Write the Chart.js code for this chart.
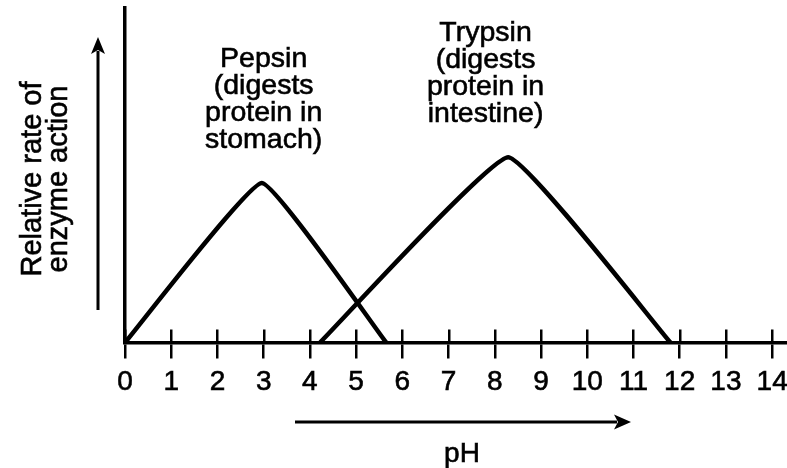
<!DOCTYPE html>
<html>
<head>
<meta charset="utf-8">
<script src="https://cdn.jsdelivr.net/npm/chart.js@4.4.1/dist/chart.umd.min.js"></script>
<style>
  html, body { margin: 0; padding: 0; background: #fff; }
  #wrap { width: 787px; height: 468px; }
</style>
</head>
<body>
<div id="wrap"><canvas id="c" width="787" height="468"></canvas></div>
<script>
// ---- data ----
const phTicks = ['0','1','2','3','4','5','6','7','8','9','10','11','12','13','14'];
const pepsinPH   = [0, 2.96, 5.65];
const pepsinRate = [0, 47.7, 0];
const trypsinPH   = [4.22, 8.29, 11.8];
const trypsinRate = [0, 55.4, 0];
const pepsinLabel  = ['Pepsin', '(digests', 'protein in', 'stomach)'];
const trypsinLabel = ['Trypsin', '(digests', 'protein in', 'intestine)'];
const yTitle = ['Relative rate of', 'enzyme action'];
const xTitle = 'pH';

const FONT = '"Liberation Sans", Arial, Helvetica, sans-serif';

function pts(xs, ys) { return xs.map((x, i) => ({ x: x, y: ys[i] })); }

function arrow(ctx, x1, y1, x2, y2, head, half) {
  const ang = Math.atan2(y2 - y1, x2 - x1);
  const bx = x2 - head * Math.cos(ang), by = y2 - head * Math.sin(ang);
  ctx.beginPath();
  ctx.moveTo(x1, y1);
  ctx.lineTo(bx + 3 * Math.cos(ang), by + 3 * Math.sin(ang));
  ctx.stroke();
  ctx.beginPath();
  ctx.moveTo(x2, y2);
  ctx.lineTo(bx - half * Math.sin(ang), by + half * Math.cos(ang));
  ctx.lineTo(bx + 4 * Math.cos(ang), by + 4 * Math.sin(ang));
  ctx.lineTo(bx + half * Math.sin(ang), by - half * Math.cos(ang));
  ctx.closePath();
  ctx.fill();
}

function boldText(ctx, s, x, y) {
  ctx.fillText(s, x, y);
  ctx.strokeText(s, x, y);
}

const decor = {
  id: 'decor',
  afterDraw(chart) {
    const ctx = chart.ctx;
    const ca = chart.chartArea;
    const xs = chart.scales.x;
    ctx.save();
    ctx.strokeStyle = '#000';
    ctx.fillStyle = '#000';
    // upper half of tick marks (crossing the axis)
    ctx.lineWidth = 2.5;
    xs.ticks.forEach(t => {
      const px = Math.round(xs.getPixelForValue(t.value)) + 0.25;
      ctx.beginPath();
      ctx.moveTo(px, ca.bottom - 13);
      ctx.lineTo(px, ca.bottom);
      ctx.stroke();
    });
    // y direction arrow
    ctx.lineWidth = 3;
    arrow(ctx, ca.left - 27, 310, ca.left - 27, 37, 17, 7);
    // x direction arrow
    arrow(ctx, 295, 422, 631, 422, 17, 7.5);
    // text
    ctx.lineWidth = 0.6;
    ctx.textAlign = 'center';
    ctx.textBaseline = 'alphabetic';
    // x title
    ctx.font = '28px ' + FONT;
    boldText(ctx, xTitle, 462, 462);
    // y title (rotated)
    ctx.font = '29px ' + FONT;
    const cy = 179;
    yTitle.forEach((line, i) => {
      ctx.save();
      ctx.translate(41 + i * 25.5, cy);
      ctx.rotate(-Math.PI / 2);
      boldText(ctx, line, 0, 0);
      ctx.restore();
    });
    // enzyme annotations
    ctx.font = '28.5px ' + FONT;
    const drawBlock = (lines, ph, baseY) => {
      const px = xs.getPixelForValue(ph);
      lines.forEach((l, i) => boldText(ctx, l, px, baseY + i * 27));
    };
    drawBlock(pepsinLabel, 3.0, 67);
    drawBlock(trypsinLabel, 7.8, 41);
    ctx.restore();
  }
};

new Chart(document.getElementById('c'), {
  type: 'line',
  data: {
    datasets: [
      { label: 'Pepsin', data: pts(pepsinPH, pepsinRate) },
      { label: 'Trypsin', data: pts(trypsinPH, trypsinRate) }
    ]
  },
  options: {
    responsive: false,
    devicePixelRatio: 1,
    animation: false,
    layout: { padding: { left: 125, top: 8, right: 1, bottom: 61.9 } },
    elements: {
      line: { borderColor: '#000', borderWidth: 4.5, tension: 0.1, fill: false,
              borderJoinStyle: 'round', borderCapStyle: 'butt' },
      point: { radius: 0, hoverRadius: 0 }
    },
    plugins: { legend: { display: false }, tooltip: { enabled: false } },
    scales: {
      x: {
        type: 'linear', position: 'bottom', min: 0, max: 14.3,
        border: { display: true, color: '#000', width: 3.5 },
        grid: { display: true, drawOnChartArea: false, drawTicks: true, tickLength: 16,
                color: '#000', lineWidth: 2.5 },
        ticks: { stepSize: 1, includeBounds: false, autoSkip: false, maxRotation: 0,
                 color: '#000', padding: 7, font: { family: FONT, size: 28 },
                 textStrokeColor: '#000', textStrokeWidth: 0.6,
                 callback: (v, i) => phTicks[i] },
        afterFit: (scale) => { scale.paddingLeft = 0; scale.paddingRight = 0; }
      },
      y: {
        type: 'linear', min: 0, max: 100,
        border: { display: true, color: '#000', width: 3.5 },
        grid: { display: false, drawTicks: false },
        ticks: { display: false }
      }
    }
  },
  plugins: [decor]
});
</script>
</body>
</html>
